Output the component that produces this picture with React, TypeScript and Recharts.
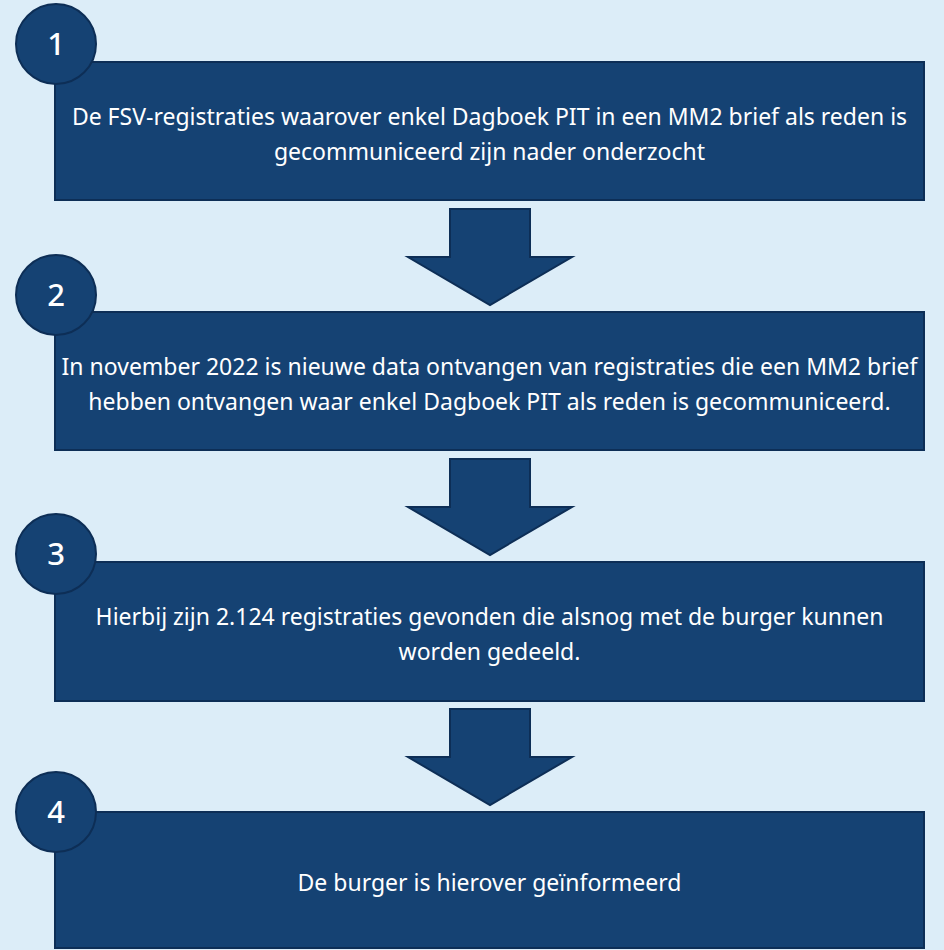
import { ComposedChart, XAxis, YAxis, Scatter, ReferenceArea } from 'recharts'

// step content
const stepNumbers = [1, 2, 3, 4]
const stepLines = [
  [
    'De FSV-registraties waarover enkel Dagboek PIT in een MM2 brief als reden is',
    'gecommuniceerd zijn nader onderzocht',
  ],
  [
    'In november 2022 is nieuwe data ontvangen van registraties die een MM2 brief',
    'hebben ontvangen waar enkel Dagboek PIT als reden is gecommuniceerd.',
  ],
  [
    'Hierbij zijn 2.124 registraties gevonden die alsnog met de burger kunnen',
    'worden gedeeld.',
  ],
  ['De burger is hierover geïnformeerd'],
]

// layout (pixel units, axes map 1:1)
const W = 944
const H = 950
const BOX_LEFT = 55
const BOX_RIGHT = 924
const boxTops = [62, 312, 562, 812]
const boxBottoms = [200, 450, 701, 948]
const circleYs = [44, 295, 554, 812]
const CIRCLE_X = 56
const ARROW_LEFT = 408
const ARROW_RIGHT = 572
const arrowTops = [209, 459, 709]
const arrowTips = [305, 555, 805]

const BG = '#dcedf8'
const NAVY = '#154273'
const EDGE = '#0d2e56'
const FONT = '"Noto Sans", sans-serif'

const circles = stepNumbers.map((n, i) => ({ x: CIRCLE_X, y: circleYs[i], n }))

function StepBox(props: any, lines: string[]) {
  const { x, y, width, height } = props
  const cx = x + width / 2
  const mid = y + height / 2 + 11
  return (
    <g>
      <rect x={x} y={y} width={width} height={height} fill={NAVY} stroke={EDGE} strokeWidth={2} />
      {lines.map((t, i) => (
        <text
          key={i}
          x={cx}
          y={mid + (i - (lines.length - 1) / 2) * 35}
          textAnchor="middle"
          fill="#ffffff"
          fontFamily={FONT}
          fontSize={23}
        >
          {t}
        </text>
      ))}
    </g>
  )
}

function Arrow(props: any) {
  const { x, y, width, height } = props
  const cx = x + width / 2
  const shaft = 40
  const wingY = y + 48
  const pts = [
    [cx - shaft, y],
    [cx + shaft, y],
    [cx + shaft, wingY],
    [x + width, wingY],
    [cx, y + height],
    [x, wingY],
    [cx - shaft, wingY],
  ]
  return (
    <polygon
      points={pts.map((p) => p.join(',')).join(' ')}
      fill={NAVY}
      stroke={EDGE}
      strokeWidth={2}
      strokeLinejoin="miter"
    />
  )
}

function NumberCircle(props: any) {
  const { cx, cy, payload } = props
  return (
    <g>
      <circle cx={cx} cy={cy} r={40} fill={NAVY} stroke={EDGE} strokeWidth={2} />
      <text
        x={cx}
        y={cy + 11}
        textAnchor="middle"
        fill="#ffffff"
        fontFamily={FONT}
        fontSize={31}
        fontWeight={500}
      >
        {payload.n}
      </text>
    </g>
  )
}

export default function App() {
  return (
    <div style={{ width: W, height: H, background: BG }}>
      <style>{`body{margin:0;background:${BG}}`}</style>
      <ComposedChart width={W} height={H} margin={{ top: 0, right: 0, bottom: 0, left: 0 }}>
        <XAxis type="number" dataKey="x" domain={[0, W]} hide allowDataOverflow />
        <YAxis type="number" dataKey="y" domain={[0, H]} reversed hide allowDataOverflow />
        {stepLines.map((lines, i) => (
          <ReferenceArea
            key={'box' + i}
            x1={BOX_LEFT}
            x2={BOX_RIGHT}
            y1={boxTops[i]}
            y2={boxBottoms[i]}
            ifOverflow="visible"
            shape={(p: any) => StepBox(p, lines)}
          />
        ))}
        {arrowTops.map((top, i) => (
          <ReferenceArea
            key={'arrow' + i}
            x1={ARROW_LEFT}
            x2={ARROW_RIGHT}
            y1={top}
            y2={arrowTips[i]}
            ifOverflow="visible"
            shape={Arrow}
          />
        ))}
        <Scatter data={circles} shape={NumberCircle} isAnimationActive={false} />
      </ComposedChart>
    </div>
  )
}
